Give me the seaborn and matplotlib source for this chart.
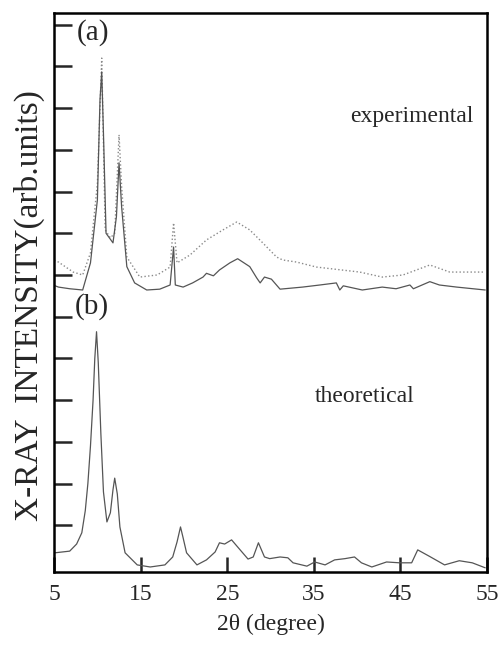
import matplotlib
matplotlib.use("Agg")
import matplotlib.pyplot as plt
import seaborn as sns
import pandas as pd

# ---- data (2theta in degrees, intensity in arbitrary units) ----
theo_x = [5.1, 6.8, 7.6, 8.2, 8.6, 8.9, 9.2, 9.5, 9.7, 9.9, 10.1, 10.4, 10.7, 11.1, 11.5,
          11.8, 12.0, 12.3, 12.6, 13.2, 14.6, 16.1, 17.8, 18.7, 19.2, 19.6, 19.9, 20.3,
          21.5, 22.6, 23.6, 24.1, 24.7, 25.5, 26.2, 27.4, 28.0, 28.6, 29.3, 29.9, 31.1,
          32.0, 32.6, 34.2, 35.1, 36.3, 37.4, 38.6, 39.7, 40.5, 41.7, 43.4, 44.9, 46.3,
          47.0, 48.4, 50.1, 51.8, 53.3, 54.8]
theo_y = [0.34, 0.38, 0.55, 0.82, 1.35, 2.0, 2.9, 4.0, 5.0, 5.64, 4.9, 3.2, 1.8, 1.08, 1.3,
          1.85, 2.13, 1.75, 0.96, 0.34, 0.05, 0.0, 0.05, 0.24, 0.6, 0.96, 0.7, 0.34,
          0.05, 0.17, 0.36, 0.58, 0.55, 0.65, 0.48, 0.19, 0.24, 0.58, 0.24, 0.2, 0.24,
          0.22, 0.1, 0.02, 0.12, 0.05, 0.17, 0.2, 0.24, 0.1, 0.0, 0.12, 0.1, 0.1,
          0.41, 0.25, 0.05, 0.15, 0.1, -0.02]

exp_x = [5.0, 5.5, 6.8, 8.3, 9.2, 10.0, 10.3, 10.5, 10.7, 11.0, 11.8, 12.2, 12.5, 12.8,
         13.4, 14.3, 15.7, 17.2, 18.4, 18.8, 19.0, 19.9, 21.0, 22.2, 22.6, 23.4, 24.1,
         25.3, 26.2, 27.6, 28.4, 28.8, 29.3, 30.1, 31.1, 33.7, 35.7, 37.6, 38.0, 38.4,
         40.6, 42.9, 44.5, 46.1, 46.5, 48.4, 49.5, 51.5, 54.8]
exp_y = [6.75, 6.71, 6.67, 6.64, 7.29, 8.8, 11.2, 11.87, 10.4, 8.0, 7.77, 8.4, 9.69, 8.63,
         7.2, 6.81, 6.64, 6.66, 6.76, 7.67, 6.76, 6.71, 6.81, 6.95, 7.04, 6.98, 7.12,
         7.29, 7.39, 7.2, 6.93, 6.81, 6.95, 6.9, 6.66, 6.71, 6.76, 6.81, 6.64, 6.74,
         6.64, 6.71, 6.67, 6.76, 6.67, 6.84, 6.76, 6.71, 6.64]

ref_x = [5.0, 5.5, 7.2, 8.3, 9.2, 10.0, 10.5, 10.9, 11.5, 12.0, 12.5, 12.8, 13.4, 14.9,
         16.9, 18.4, 18.8, 19.2, 20.7, 22.6, 24.5, 26.1, 27.6, 29.1, 30.7, 31.4, 33.0,
         35.3, 40.3, 42.9, 45.3, 48.4, 50.7, 54.8]
ref_y = [7.35, 7.31, 7.07, 7.0, 7.53, 9.2, 12.2, 8.08, 7.89, 8.0, 10.36, 9.11, 7.43, 6.95,
         7.0, 7.19, 8.25, 7.29, 7.48, 7.84, 8.08, 8.27, 8.08, 7.77, 7.43, 7.36, 7.31,
         7.19, 7.07, 6.95, 7.0, 7.24, 7.07, 7.07]

x_ticks = [5, 15, 25, 35, 45, 55]
panel_labels = ["(a)", "(b)"]
curve_labels = ["experimental", "theoretical"]

sns.set_style("ticks")
plt.rcParams["font.family"] = ["Liberation Serif", "DejaVu Serif"]

fig = plt.figure(figsize=(5.01, 6.54), dpi=100)
ax = fig.add_axes([0.108, 0.1254, 0.864, 0.8547])

df_t = pd.DataFrame({"x": theo_x, "y": theo_y})
df_e = pd.DataFrame({"x": exp_x, "y": exp_y})
df_r = pd.DataFrame({"x": ref_x, "y": ref_y})

sns.lineplot(data=df_r, x="x", y="y", ax=ax, color="#8a8a8a", lw=1.0,
             linestyle=":", sort=False)
sns.lineplot(data=df_e, x="x", y="y", ax=ax, color="#555555", lw=0.9, sort=False)
sns.lineplot(data=df_t, x="x", y="y", ax=ax, color="#555555", lw=0.9, sort=False)

ax.set_xlim(5, 55)
ax.set_ylim(-0.12, 13.28)
ax.set_xticks(x_ticks)
ax.set_xticklabels([str(v) for v in x_ticks])
ax.set_yticks(list(range(1, 14)))
ax.set_yticklabels([])
ax.tick_params(axis="y", direction="in", length=13, width=1.8, left=True, right=False)
ax.tick_params(axis="x", direction="in", length=11, width=1.8, pad=9,
               labelsize=17, top=False)
for s in ax.spines.values():
    s.set_linewidth(1.8)
    s.set_color("black")

ax.set_xlabel("2θ (degree)", fontsize=17, labelpad=6)
ax.set_ylabel("X-RAY  INTENSITY(arb.units)", fontsize=24)
ax.yaxis.set_label_coords(-0.022, 0.476)

ax.text(0.052, 0.965, panel_labels[0], transform=ax.transAxes, fontsize=21,
        ha="left", va="center")
ax.text(0.048, 0.475, panel_labels[1], transform=ax.transAxes, fontsize=21,
        ha="left", va="center")
ax.text(0.827, 0.815, curve_labels[0], transform=ax.transAxes, fontsize=17,
        ha="center", va="center")
ax.text(0.718, 0.314, curve_labels[1], transform=ax.transAxes, fontsize=17,
        ha="center", va="center")

fig.savefig("out.png", dpi=100)
